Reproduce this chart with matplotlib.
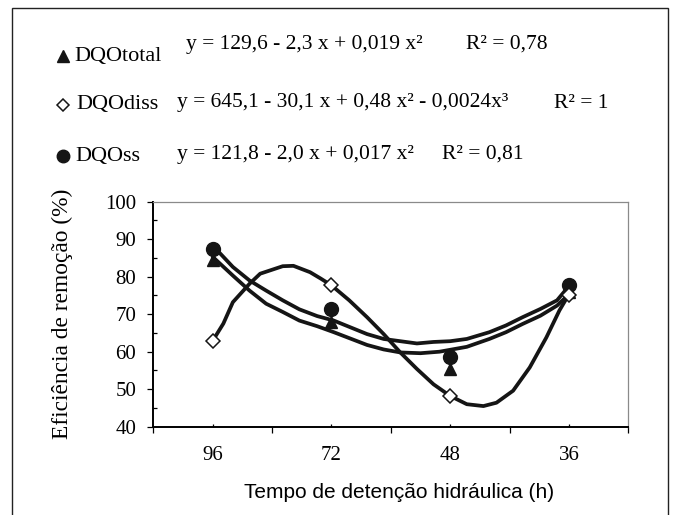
import matplotlib
matplotlib.use("Agg")
import matplotlib.pyplot as plt
from matplotlib.lines import Line2D
from matplotlib.patches import Rectangle
from matplotlib.ticker import FixedLocator

# ---------------- data ----------------
hours = ["96", "72", "48", "36"]
dqo_total = [84.5, 67.9, 55.4, 76.0]
dqo_diss = [62.9, 77.7, 48.2, 75.0]
dqo_ss = [87.5, 71.4, 58.5, 77.8]

# fitted curves (x = category index: 0=96, 1=72, 2=48, 3=36)
ss_curve_x = [0.00, 0.06, 0.17, 0.31, 0.45, 0.59, 0.73, 0.88, 1.02, 1.16, 1.30, 1.44,
              1.58, 1.72, 1.86, 2.00, 2.14, 2.33, 2.47, 2.61, 2.76, 2.90, 3.00]
ss_curve_y = [87.5, 86.3, 82.6, 79.0, 76.3, 73.7, 71.3, 69.5, 68.3, 66.5, 64.7, 63.4,
              62.8, 62.2, 62.6, 62.8, 63.4, 65.2, 67.0, 69.2, 71.4, 73.7, 77.5]

total_curve_x = [0.00, 0.17, 0.31, 0.45, 0.59, 0.73, 0.88, 1.02, 1.16, 1.30, 1.44,
                 1.58, 1.75, 1.91, 2.14, 2.33, 2.47, 2.61, 2.76, 2.90, 3.00]
total_curve_y = [85.3, 80.3, 76.3, 72.8, 70.6, 68.3, 66.8, 65.2, 63.5, 61.8, 60.6,
                 59.8, 59.6, 60.0, 61.3, 63.4, 65.2, 67.4, 69.6, 72.3, 75.3]

diss_curve_x = [0.00, 0.09, 0.17, 0.31, 0.40, 0.59, 0.68, 0.82, 0.91, 1.00, 1.15, 1.30,
                1.44, 1.58, 1.72, 1.86, 2.00, 2.14, 2.28, 2.39, 2.53, 2.67, 2.81, 2.92, 3.00]
diss_curve_y = [62.9, 67.5, 73.2, 78.1, 80.8, 82.8, 82.9, 81.2, 79.5, 77.7, 73.7, 69.2,
                64.7, 59.8, 55.4, 51.3, 48.2, 46.0, 45.5, 46.4, 49.6, 55.8, 63.8, 71.0, 75.3]

series_names = ["DQOtotal", "DQOdiss", "DQOss"]
equations = ["y = 129,6 - 2,3 x + 0,019 x²",
             "y = 645,1 - 30,1 x + 0,48 x² - 0,0024x³",
             "y = 121,8 - 2,0 x + 0,017 x²"]
r2_texts = ["R² = 0,78", "R² = 1", "R² = 0,81"]
x_label = "Tempo de detenção hidráulica (h)"
y_label = "Eficiência de remoção (%)"

# ---------------- figure ----------------
W, H = 673, 515
fig = plt.figure(figsize=(W / 100, H / 100), dpi=100)

def fx(px):
    return px / W

def fy(py):
    return 1 - py / H

ax = fig.add_axes([fx(153.3), fy(426.7), fx(628.3) - fx(153.3), fy(201.7) - fy(426.7)])

serif = ["Liberation Serif", "DejaVu Serif"]
sans = ["Liberation Sans", "DejaVu Sans"]
lc = "#151515"
lw = 2.7

xs = list(range(len(hours)))
for cx, cy in [(total_curve_x, total_curve_y), (ss_curve_x, ss_curve_y),
               (diss_curve_x, diss_curve_y)]:
    ax.plot(cx, cy, color=lc, lw=lw, solid_joinstyle="round",
            solid_capstyle="round", zorder=2)

ax.plot(xs, dqo_total, linestyle="none", marker="^", ms=9, color=lc, zorder=4)
ax.plot(xs, dqo_diss, linestyle="none", marker="D", ms=7, mfc="white", mec=lc,
        mew=1.1, zorder=5)
ax.plot(xs, dqo_ss, linestyle="none", marker="o", ms=10, color=lc, zorder=4)

ax.set_xlim(-0.5, 3.5)
ax.set_ylim(40, 100)

ax.xaxis.set_major_locator(FixedLocator(xs))
ax.set_xticklabels(hours)
ax.xaxis.set_minor_locator(FixedLocator([-0.5, 0.5, 1.5, 2.5, 3.5]))
ax.yaxis.set_major_locator(FixedLocator(list(range(40, 101, 10))))
ax.yaxis.set_minor_locator(FixedLocator(list(range(45, 100, 10))))

ax.tick_params(axis="x", which="major", direction="in", length=2.2, width=0.9,
               pad=14, labelsize=15, colors="black")
ax.tick_params(axis="x", which="minor", direction="out", length=4.2, width=0.9)
ax.tick_params(axis="y", which="major", direction="out", length=4.2, width=0.9,
               pad=8, labelsize=15)
ax.tick_params(axis="y", which="minor", direction="in", length=3, width=0.9)
for lab in ax.get_xticklabels() + ax.get_yticklabels():
    lab.set_fontfamily(serif)

for s in ["left", "bottom"]:
    ax.spines[s].set_color("black")
    ax.spines[s].set_linewidth(1.4)
for s in ["top", "right"]:
    ax.spines[s].set_color("#8a8a8a")
    ax.spines[s].set_linewidth(0.9)

# axis labels
fig.text(fx(399), fy(493), x_label, family=sans, fontsize=15, ha="center", va="center")
fig.text(fx(62), fy(314), y_label, family=serif, fontsize=16.8, rotation=90,
         ha="center", va="center")

# legend-like header with equations
marker_specs = [dict(marker="^", ms=9, color=lc),
                dict(marker="D", ms=6.5, mfc="white", mec=lc, mew=1.1, color=lc),
                dict(marker="o", ms=9, color=lc)]
label_y = [56, 105, 156]
label_x = [74, 76, 75]
eq_x = [186, 177, 177]
eq_y = [44, 103, 154]
r2_x = [466, 554, 442]
for i in range(3):
    fig.add_artist(Line2D([fx(63)], [fy(label_y[i])], linestyle="none",
                          transform=fig.transFigure, **marker_specs[i]))
    fig.text(fx(label_x[i]), fy(label_y[i]), series_names[i], family=serif,
             fontsize=16, ha="left", va="center")
    fig.text(fx(eq_x[i]), fy(eq_y[i]), equations[i], family=serif,
             fontsize=15.5, ha="left", va="center")
    fig.text(fx(r2_x[i]), fy(eq_y[i]), r2_texts[i], family=serif,
             fontsize=15.5, ha="left", va="center")

# outer frame
fig.add_artist(Rectangle((fx(12), -0.01), fx(668) - fx(12), fy(8) + 0.01,
                         transform=fig.transFigure, fill=False, edgecolor="#222222",
                         linewidth=1.0))

fig.savefig("out.png", dpi=100)
